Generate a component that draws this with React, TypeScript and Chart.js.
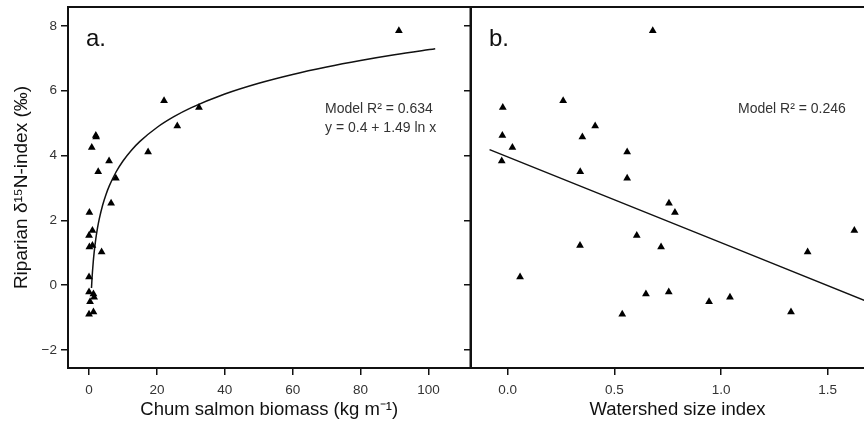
import React, { useEffect, useRef } from "react";
import { Chart, registerables } from "chart.js";

Chart.register(...registerables);

// Riparian δ15N-index values (shared by both panels)
const deltaN = [7.85, 5.69, 5.48, 4.91, 4.62, 4.57, 4.25, 4.11, 3.83, 3.5, 3.3, 2.53, 2.24, 1.69, 1.53, 1.22, 1.18, 1.02, 0.25, -0.21, -0.27, -0.37, -0.51, -0.83, -0.9];
// Panel a: chum salmon biomass (kg m-1)
const chumBiomass = [91.3, 22.1, 32.4, 26.0, 2.0, 2.1, 0.8, 17.4, 5.9, 2.7, 7.9, 6.5, 0.1, 1.0, 0.0, 1.0, 0.1, 3.7, 0.0, 0.0, 1.3, 1.5, 0.3, 1.3, 0.0];
// Panel b: watershed size index
const watershedSize = [0.68, 0.26, -0.023, 0.41, -0.025, 0.35, 0.022, 0.56, -0.028, 0.34, 0.56, 0.756, 0.784, 1.625, 0.605, 0.339, 0.719, 1.406, 0.058, 0.755, 0.648, 1.042, 0.944, 1.328, 0.537];

// Model a: y = 0.4 + 1.49 ln x (as printed on the chart)
const fitIntercept = 0.4;
const fitSlope = 1.49;
const fitCurveX = [0.72, 0.85, 1, 1.25, 1.5, 2, 2.5, 3, 4, 5, 6, 8, 10, 12.5, 15, 20, 25, 30, 40, 50, 60, 70, 80, 90, 102];

// Model b: straight line, end points
const lineBX = [-0.085, 1.764];
const lineBY = [4.18, -0.71];

const yTicks = [-2, 0, 2, 4, 6, 8];
const xTicksA = [0, 20, 40, 60, 80, 100];
const xTicksB = [0, 0.5, 1.0, 1.5];

const FONT = "'Liberation Sans', Arial, Helvetica, sans-serif";

const framePlugin = {
  id: "frame",
  afterDraw(chart: any) {
    const { ctx, chartArea: a } = chart;
    ctx.save();
    ctx.strokeStyle = "#111";
    ctx.lineWidth = 2;
    ctx.strokeRect(a.left, a.top, a.right - a.left, a.bottom - a.top);
    ctx.restore();
  },
};

function makeTextPlugin(panel: string, lines: string[], dx: number) {
  return {
    id: "texts" + panel,
    afterDraw(chart: any) {
      const { ctx, chartArea: a } = chart;
      ctx.save();
      ctx.textBaseline = "alphabetic";
      ctx.textAlign = "left";
      ctx.fillStyle = "#111";
      ctx.font = `24px ${FONT}`;
      ctx.fillText(panel, a.left + 18, a.top + 39);
      ctx.fillStyle = "#333";
      ctx.font = `14px ${FONT}`;
      lines.forEach((t, i) => ctx.fillText(t, a.left + dx, a.top + 106 + i * 18.5));
      ctx.restore();
    },
  };
}

function fmtY(v: number) {
  return v < 0 ? "\u2212" + Math.abs(v) : String(v);
}

function baseScales(xMin: number, xMax: number, xTicks: number[], xTitle: string, xFmt: (v: number) => string, showY: boolean, yWidth: number) {
  return {
    x: {
      type: "linear",
      min: xMin,
      max: xMax,
      afterBuildTicks: (s: any) => {
        s.ticks = xTicks.map((v) => ({ value: v }));
      },
      afterFit: (s: any) => {
        s.height = 55;
        s.paddingLeft = 0;
        s.paddingRight = 0;
        s.paddingTop = 0;
        s.paddingBottom = 0;
      },
      border: { display: false },
      grid: { drawOnChartArea: false, drawTicks: true, tickLength: 7, color: "#111", lineWidth: 1.5 },
      ticks: { color: "#333", font: { size: 13.5, family: FONT }, padding: 7, maxRotation: 0, callback: (v: any) => xFmt(Number(v)) },
      title: { display: true, text: xTitle, color: "#111", font: { size: 18.5, family: FONT }, padding: { top: 0, bottom: 2 } },
    },
    y: {
      type: "linear",
      min: -2.555,
      max: 8.58,
      afterBuildTicks: (s: any) => {
        s.ticks = yTicks.map((v) => ({ value: v }));
      },
      afterFit: (s: any) => {
        s.width = yWidth;
        s.paddingLeft = 0;
        s.paddingRight = 0;
        s.paddingTop = 0;
        s.paddingBottom = 0;
      },
      border: { display: false },
      grid: { drawOnChartArea: false, drawTicks: true, tickLength: 7, color: "#111", lineWidth: 1.5 },
      ticks: { display: showY, color: "#333", font: { size: 13.5, family: FONT }, padding: 4, callback: (v: any) => fmtY(Number(v)) },
      title: {
        display: showY,
        text: "Riparian \u03b4\u00b9\u2075N-index (\u2030)",
        color: "#111",
        font: { size: 19, family: FONT },
        padding: { top: 10, bottom: 0 },
      },
    },
  };
}

export default function App() {
  const refA = useRef<HTMLCanvasElement>(null);
  const refB = useRef<HTMLCanvasElement>(null);

  useEffect(() => {
    Chart.defaults.font.family = FONT;
    const ptsA = chumBiomass.map((x, i) => ({ x, y: deltaN[i] }));
    const ptsB = watershedSize.map((x, i) => ({ x, y: deltaN[i] }));
    const curveA = fitCurveX.map((x) => ({ x, y: fitIntercept + fitSlope * Math.log(x) }));
    const curveB = lineBX.map((x, i) => ({ x, y: lineBY[i] }));

    const pointDs = (data: any[]) => ({
      type: "scatter",
      data,
      pointStyle: "triangle",
      pointRadius: 4.5,
      backgroundColor: "#000",
      borderColor: "#000",
      borderWidth: 0,
      order: 1,
    });
    const lineDs = (data: any[]) => ({
      type: "line",
      data,
      showLine: true,
      pointRadius: 0,
      borderColor: "#111",
      borderWidth: 1.5,
      fill: false,
      tension: 0,
      cubicInterpolationMode: "monotone",
      order: 2,
    });

    const chartA = new Chart(refA.current as HTMLCanvasElement, {
      type: "scatter",
      data: { datasets: [pointDs(ptsA), lineDs(curveA)] as any },
      options: {
        responsive: false,
        animation: false,
        layout: { padding: { top: 7, right: 4, left: 0, bottom: 0 } },
        plugins: { legend: { display: false }, tooltip: { enabled: false } },
        scales: baseScales(-6.2, 112.4, xTicksA, "Chum salmon biomass (kg m\u207b\u00b9)", (v) => String(v), true, 68) as any,
      },
      plugins: [framePlugin, makeTextPlugin("a.", ["Model R\u00b2 = 0.634", "y = 0.4 + 1.49 ln x"], 257)],
    });

    const chartB = new Chart(refB.current as HTMLCanvasElement, {
      type: "scatter",
      data: { datasets: [pointDs(ptsB), lineDs(curveB)] as any },
      options: {
        responsive: false,
        animation: false,
        layout: { padding: { top: 7, right: 6, left: 0, bottom: 0 } },
        plugins: { legend: { display: false }, tooltip: { enabled: false } },
        scales: baseScales(-0.172, 1.764, xTicksB, "Watershed size index", (v) => v.toFixed(1), false, 16) as any,
      },
      plugins: [framePlugin, makeTextPlugin("b.", ["Model R\u00b2 = 0.246"], 267)],
    });

    return () => {
      chartA.destroy();
      chartB.destroy();
    };
  }, []);

  return (
    <div style={{ position: "fixed", left: 0, top: 0, width: 864, height: 423, overflow: "hidden", background: "#fff" }}>
      <canvas ref={refA} width={475} height={423} style={{ position: "absolute", left: 0, top: 0, width: 475, height: 423 }} />
      <canvas ref={refB} width={435} height={423} style={{ position: "absolute", left: 455, top: 0, width: 435, height: 423 }} />
    </div>
  );
}
